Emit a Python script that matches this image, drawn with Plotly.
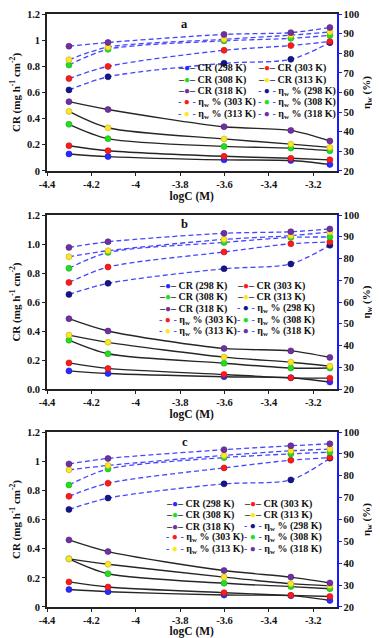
import plotly.graph_objects as go
from plotly.subplots import make_subplots

# log of inhibitor concentration (M)
logc = [-4.301, -4.125, -3.602, -3.301, -3.125]
temps = ["298 K", "303 K", "308 K", "313 K", "318 K"]

# corrosion rate, mg h-1 cm-2 (rows: 298, 303, 308, 313, 318 K)
cr_a = [[0.130, 0.110, 0.085, 0.080, 0.050],
        [0.193, 0.155, 0.112, 0.097, 0.085],
        [0.357, 0.247, 0.188, 0.175, 0.155],
        [0.455, 0.330, 0.245, 0.205, 0.180],
        [0.530, 0.470, 0.338, 0.310, 0.229]]
cr_b = [[0.125, 0.107, 0.085, 0.078, 0.048],
        [0.180, 0.142, 0.100, 0.077, 0.075],
        [0.337, 0.243, 0.178, 0.145, 0.145],
        [0.372, 0.322, 0.220, 0.185, 0.158],
        [0.485, 0.400, 0.280, 0.263, 0.218]]
cr_c = [[0.120, 0.105, 0.082, 0.078, 0.045],
        [0.172, 0.137, 0.098, 0.080, 0.072],
        [0.330, 0.228, 0.163, 0.140, 0.125],
        [0.330, 0.293, 0.205, 0.160, 0.145],
        [0.460, 0.380, 0.250, 0.205, 0.165]]

# inhibition efficiency eta_w (%)
eta_a = [[61.3, 68.0, 74.9, 76.9, 85.4],
         [67.1, 73.3, 81.5, 83.9, 86.0],
         [74.0, 82.0, 86.3, 87.6, 89.1],
         [76.7, 83.1, 87.1, 89.2, 90.8],
         [83.6, 85.5, 89.6, 90.5, 93.1]]
eta_b = [[63.5, 68.6, 75.3, 77.5, 86.1],
         [69.0, 76.1, 83.0, 86.8, 87.6],
         [75.5, 82.8, 87.4, 89.7, 89.9],
         [80.8, 83.6, 88.8, 90.5, 92.2],
         [85.1, 87.7, 91.6, 92.3, 93.6]]
eta_c = [[64.6, 69.8, 76.3, 78.1, 88.0],
         [70.6, 76.6, 83.6, 87.1, 88.3],
         [75.8, 83.1, 88.3, 90.0, 90.8],
         [82.7, 84.7, 89.3, 91.4, 92.2],
         [85.4, 87.9, 91.9, 93.7, 94.6]]

panel_labels = ["a", "b", "c"]
x_ticks = [-4.4, -4.2, -4.0, -3.8, -3.6, -3.4, -3.2]
x_labels = ["-4.4", "-4.2", "-4", "-3.8", "-3.6", "-3.4", "-3.2"]
cr_ticks = [0, 0.2, 0.4, 0.6, 0.8, 1.0, 1.2]
cr_labels_plain = ["0", "0.2", "0.4", "0.6", "0.8", "1", "1.2"]
cr_labels_dec = ["0.0", "0.2", "0.4", "0.6", "0.8", "1.0", "1.2"]

dot_colors = ["#2a2aff", "#ff1a1a", "#22dd22", "#ffe81a", "#7030a0"]
eta_dot_colors = ["#14148c", "#ff1a1a", "#22dd22", "#ffe81a", "#7030a0"]
dot_edges = ["#1818c0", "#c01010", "#18a818", "#b8a838", "#50207a"]
eta_dot_edges = ["#0c0c60", "#c01010", "#18a818", "#b8a838", "#50207a"]
cr_line = "#262626"
eta_line = "#4646ff"
axis_blue = "#1a1aff"
serif = "Liberation Serif"

panels = [(cr_a, eta_a), (cr_b, eta_b), (cr_c, eta_c)]
domains = [[0.7353, 1.0], [0.3676, 0.6610], [0.0, 0.2951]]

fig = make_subplots(rows=3, cols=1, specs=[[{"secondary_y": True}]] * 3)

for r, (cr, eta) in enumerate(panels, start=1):
    for j in range(5):
        fig.add_trace(go.Scatter(
            x=logc, y=cr[j], mode="lines+markers", name="CR (" + temps[j] + ")",
            line=dict(color=cr_line, width=1.4, shape="spline", smoothing=0.8),
            marker=dict(color=dot_colors[j], size=6,
                        line=dict(width=0.6, color=dot_edges[j])),
            showlegend=False), row=r, col=1, secondary_y=False)
    for j in range(5):
        fig.add_trace(go.Scatter(
            x=logc, y=eta[j], mode="lines+markers", name="ηw % (" + temps[j] + ")",
            line=dict(color=eta_line, width=1.3, dash="5px,3px",
                      shape="spline", smoothing=0.8),
            marker=dict(color=eta_dot_colors[j], size=6,
                        line=dict(width=0.6, color=eta_dot_edges[j])),
            showlegend=False), row=r, col=1, secondary_y=True)

tfont = dict(family=serif, size=10.5, color="#111", weight="bold")
title_font = dict(family=serif, size=11, color="#111", weight="bold")

for r in range(1, 4):
    fig.update_xaxes(range=[-4.4, -3.095], tickvals=x_ticks, ticktext=x_labels,
                     showline=True, linecolor="#222", linewidth=1.6, mirror=True,
                     ticks="outside", ticklen=3, tickcolor="#222",
                     showgrid=False, zeroline=False, tickfont=tfont, automargin=False,
                     title=dict(text="logC (M)",
                                font=dict(family=serif, size=11.5, color="#111",
                                          weight="bold"), standoff=0),
                     row=r, col=1)
    fig.update_yaxes(range=[0, 1.2], tickvals=cr_ticks,
                     ticktext=cr_labels_dec if r == 2 else cr_labels_plain,
                     showline=True, linecolor="#222", linewidth=1.6,
                     ticks="outside", ticklen=3, tickcolor="#222",
                     showgrid=False, zeroline=False, tickfont=tfont, automargin=False,
                     title=dict(text="CR (mg h<sup>-1</sup> cm<sup>-2</sup>)",
                                font=title_font, standoff=5),
                     domain=domains[r - 1], row=r, col=1, secondary_y=False)
    fig.update_yaxes(range=[20, 100], dtick=10,
                     showline=True, linecolor=axis_blue, linewidth=2,
                     ticks="outside", ticklen=3, tickcolor=axis_blue,
                     showgrid=False, zeroline=False, tickfont=tfont, automargin=False,
                     title=dict(text="η<sub>w</sub> (%)", font=title_font, standoff=4),
                     domain=domains[r - 1], row=r, col=1, secondary_y=True)

# legend entries drawn as text, 2 columns x 5 rows, per panel
legend_cols = [[0.4475, 0.7238], [0.3825, 0.652], [0.408, 0.678]]
legend_rows = [[0.656, 0.582, 0.508, 0.434, 0.360],
               [0.592, 0.5264, 0.4609, 0.3954, 0.3299],
               [0.588, 0.524, 0.46, 0.395, 0.33]]
label_y = [0.936, 0.948, 0.941]
xrefs = ["x", "x2", "x3"]
yrefs = ["y", "y3", "y5"]

entries = []
for j in range(5):
    entries.append('<span style="color:' + cr_line + '">–</span>'
                   '<span style="color:' + dot_colors[j] + '">●</span>'
                   '<span style="color:' + cr_line + '">–</span> CR (' + temps[j] + ')')
for j in range(5):
    entries.append('<span style="color:' + eta_line + '">- </span>'
                   '<span style="color:' + eta_dot_colors[j] + '">●</span>'
                   '<span style="color:' + eta_line + '"> -</span> η<sub>w</sub> % ('
                   + temps[j] + ')')

for p in range(3):
    for k, txt in enumerate(entries):
        fig.add_annotation(text=txt, xref=xrefs[p] + " domain", yref=yrefs[p] + " domain",
                           x=legend_cols[p][k % 2], y=legend_rows[p][k // 2],
                           xanchor="left", yanchor="middle", showarrow=False, borderpad=0,
                           font=dict(family=serif, size=10, color="#111", weight="bold"))
    fig.add_annotation(text=panel_labels[p], xref=xrefs[p], yref=yrefs[p] + " domain",
                       x=-3.78, y=label_y[p], xanchor="center", yanchor="middle",
                       showarrow=False,
                       font=dict(family=serif, size=12.5, color="#111", weight="bold"))

# the page puts the figure 8 px down, so it is 8 px shorter than the window
fig.update_layout(width=380, height=630, margin=dict(l=39, r=33, t=6, b=31),
                  plot_bgcolor="white", paper_bgcolor="white", showlegend=False)

fig.write_html("out.html")
